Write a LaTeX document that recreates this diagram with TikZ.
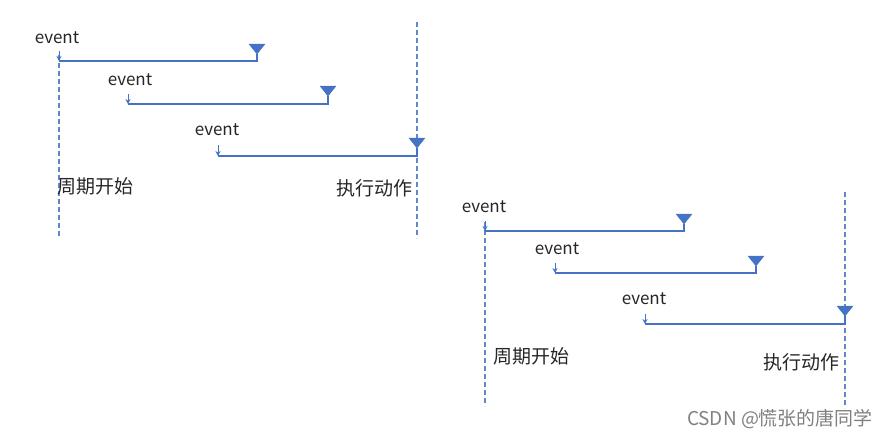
\documentclass[tikz,border=0pt]{standalone}
\usepackage{fontspec}
\setmainfont{Noto Sans CJK SC}
\usetikzlibrary{arrows.meta}
\definecolor{ln}{HTML}{4472C4}
\tikzset{
  lbl/.style={inner sep=0pt, font=\fontsize{17}{17}\selectfont, text=black!85},
  cjk/.style={inner sep=0pt, font=\fontsize{19}{19}\selectfont, text=black!85},
  dline/.style={draw=ln!85, line width=1.1pt, dash pattern=on 5pt off 3pt},
  hline/.style={draw=ln, line width=1.2pt},
  sarrow/.style={draw=ln, line width=1pt, -{Stealth[length=5pt,width=5pt]}},
  tri/.style={fill=ln, draw=ln, line join=round},
}
\begin{document}
\begin{tikzpicture}[x=1pt,y=-1pt]
\useasboundingbox (0,0) rectangle (891,439);
% ---------- diagram 1 ----------
\coordinate (s1) at (59,55);  \coordinate (s1e) at (59,237);
\coordinate (e1) at (417,22); \coordinate (e1e) at (417,238);
\draw[dline] (s1) -- (s1e);
\draw[dline] (e1) -- (e1e);
\node[lbl] (ev11) at (57,38) {event};
\node[lbl] (ev12) at (130,80) {event};
\node[lbl] (ev13) at (217,130) {event};
\coordinate (a11) at (59,51);  \coordinate (b11) at (59,61);  \coordinate (c11) at (257,61);  \coordinate (d11) at (257,54);
\coordinate (a12) at (128,94); \coordinate (b12) at (128,104); \coordinate (c12) at (328,104); \coordinate (d12) at (328,96);
\coordinate (a13) at (218,145); \coordinate (b13) at (218,156); \coordinate (c13) at (417,156); \coordinate (d13) at (417,148);
\foreach \i in {11,12,13}{
  \draw[sarrow] (a\i) -- (b\i);
  \draw[hline] (b\i) -- (c\i) -- (d\i);
  \fill[tri] (d\i) -- ++(-8,-10) -- ++(16,0) -- cycle;
}
\node[cjk] (p1) at (95,186) {周期开始};
\node[cjk] (q1) at (374,188) {执行动作};
% ---------- diagram 2 ----------
\coordinate (s2) at (485,222); \coordinate (s2e) at (485,406);
\coordinate (e2) at (845,192); \coordinate (e2e) at (845,408);
\draw[dline] (s2) -- (s2e);
\draw[dline] (e2) -- (e2e);
\node[lbl] (ev21) at (484,207) {event};
\node[lbl] (ev22) at (557,249) {event};
\node[lbl] (ev23) at (644,299) {event};
\coordinate (a21) at (485,221); \coordinate (b21) at (485,231); \coordinate (c21) at (684,231); \coordinate (d21) at (684,224);
\coordinate (a22) at (555,263); \coordinate (b22) at (555,273); \coordinate (c22) at (756,273); \coordinate (d22) at (756,266);
\coordinate (a23) at (645,314); \coordinate (b23) at (645,324); \coordinate (c23) at (845,324); \coordinate (d23) at (845,316);
\foreach \i in {21,22,23}{
  \draw[sarrow] (a\i) -- (b\i);
  \draw[hline] (b\i) -- (c\i) -- (d\i);
  \fill[tri] (d\i) -- ++(-8,-10) -- ++(16,0) -- cycle;
}
\node[cjk] (p2) at (531,356) {周期开始};
\node[cjk] (q2) at (801,362) {执行动作};
% watermark
\node[inner sep=0pt, font=\fontsize{19}{19}\selectfont, text=black!50] (wm) at (780,419) {CSDN @慌张的唐同学};
\end{tikzpicture}
\end{document}
